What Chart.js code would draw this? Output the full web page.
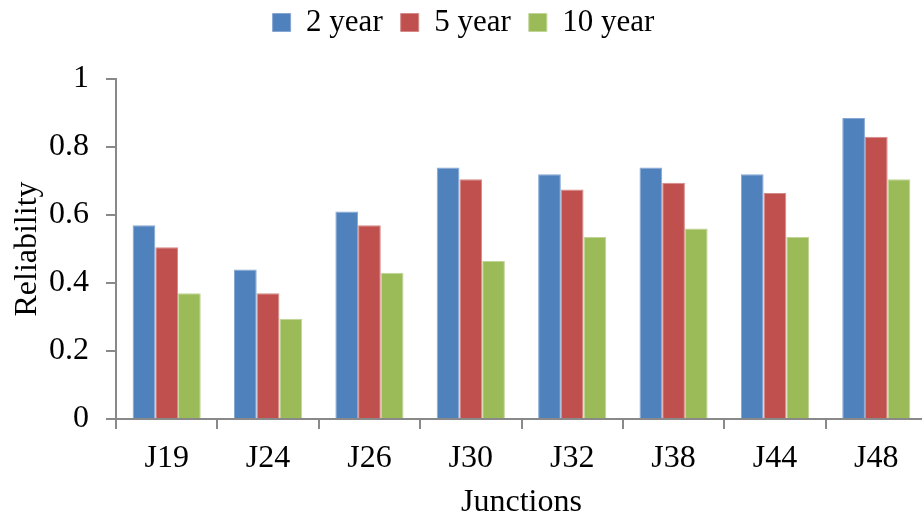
<!DOCTYPE html>
<html>
<head>
<meta charset="utf-8">
<script src="https://cdn.jsdelivr.net/npm/chart.js@4/dist/chart.umd.min.js"></script>
<style>
  html, body { margin: 0; padding: 0; background: #fff; overflow: hidden; }
  #wrap { width: 928px; height: 517px; }
</style>
</head>
<body>
<div id="wrap"><canvas id="c" width="928" height="517"></canvas></div>
<script>
// Junction reliability over three time horizons
const junctions = ['J19', 'J24', 'J26', 'J30', 'J32', 'J38', 'J44', 'J48'];
const seriesNames = ['2 year', '5 year', '10 year'];
const year2 = [0.57, 0.44, 0.61, 0.74, 0.72, 0.74, 0.72, 0.885];
const year5 = [0.505, 0.37, 0.57, 0.705, 0.675, 0.695, 0.665, 0.83];
const year10 = [0.37, 0.295, 0.43, 0.465, 0.535, 0.56, 0.535, 0.705];

const serif = "'Liberation Serif', 'Times New Roman', serif";
const axisGrey = '#898989';

// Extra room between the legend and the plot area
const legendGap = {
  id: 'legendGap',
  beforeLayout(chart) {
    const lg = chart.legend;
    if (lg && !lg._gapWrapped) {
      const fit = lg.fit.bind(lg);
      lg.fit = function () { fit(); this.height += 31; };
      lg._gapWrapped = true;
    }
  }
};

new Chart(document.getElementById('c'), {
  type: 'bar',
  data: {
    labels: junctions,
    datasets: [
      { label: seriesNames[0], data: year2, backgroundColor: '#4F81BD', borderColor: '#86A6D3', borderWidth: 1 },
      { label: seriesNames[1], data: year5, backgroundColor: '#C0504D', borderColor: '#D58A88', borderWidth: 1 },
      { label: seriesNames[2], data: year10, backgroundColor: '#9BBB59', borderColor: '#BFD496', borderWidth: 1 }
    ]
  },
  plugins: [legendGap],
  options: {
    responsive: false,
    animation: false,
    devicePixelRatio: 1,
    layout: { padding: { left: 0, right: 1, top: -11, bottom: 0 } },
    datasets: { bar: { categoryPercentage: 0.672, barPercentage: 1.0 } },
    plugins: {
      tooltip: { enabled: false },
      legend: {
        position: 'top',
        labels: {
          font: { family: serif, size: 31 },
          color: '#000',
          boxWidth: 18,
          boxHeight: 18,
          padding: 18
        }
      }
    },
    scales: {
      x: {
        grid: { display: true, drawOnChartArea: false, drawTicks: true, tickLength: 10, color: axisGrey, lineWidth: 2, offset: true },
        border: { display: true, color: axisGrey, width: 2 },
        ticks: { font: { family: serif, size: 32, lineHeight: 1.0 }, color: '#000', padding: 14, maxRotation: 0 },
        title: { display: true, text: 'Junctions', font: { family: serif, size: 32, lineHeight: 1.0 }, color: '#000', padding: { top: -2, bottom: -2 } }
      },
      y: {
        min: 0,
        max: 1,
        grid: { display: true, drawOnChartArea: false, drawTicks: true, tickLength: 10, color: axisGrey, lineWidth: 2 },
        border: { display: true, color: axisGrey, width: 2 },
        ticks: {
          stepSize: 0.2,
          font: { family: serif, size: 32 },
          color: '#000',
          padding: 17,
          callback: (v) => String(Math.round(v * 10) / 10)
        },
        title: { display: true, text: 'Reliability', font: { family: serif, size: 32, lineHeight: 1.0 }, color: '#000', padding: { top: 12, bottom: -12 } }
      }
    }
  }
});
</script>
</body>
</html>
